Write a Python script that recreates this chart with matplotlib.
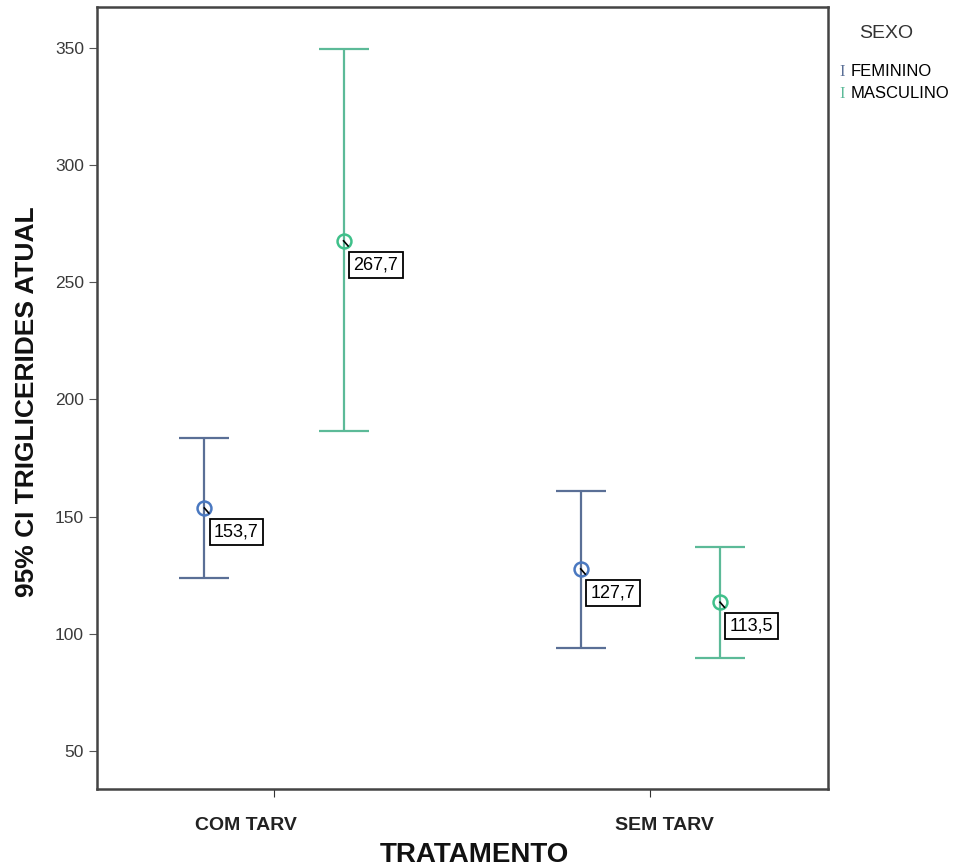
import matplotlib
matplotlib.use("Agg")
import matplotlib.pyplot as plt
import numpy as np

# -----------------------------
# Dados
# -----------------------------
tratamentos = ["COM TARV", "SEM TARV"]
sexos = ["FEMININO", "MASCULINO"]
media_fem = [153.7, 127.7]
inf_fem = [124.0, 94.0]
sup_fem = [183.5, 161.0]
media_masc = [267.7, 113.5]
inf_masc = [186.5, 89.5]
sup_masc = [349.5, 137.0]
rotulos_fem = ["153,7", "127,7"]
rotulos_masc = ["267,7", "113,5"]

COR_FEM = "#5a6f96"
COR_FEM_PT = "#4a78c0"
COR_MASC = "#5cba98"
COR_MASC_PT = "#3fc08a"

plt.rcParams["font.family"] = ["Liberation Sans", "DejaVu Sans"]

fig = plt.figure(figsize=(9.61, 8.67), dpi=100)
ax = fig.add_axes([0.101, 0.090, 0.761, 0.902])

x = np.arange(len(tratamentos))
desloc = 0.185

series = [
    (media_fem, inf_fem, sup_fem, rotulos_fem, COR_FEM, COR_FEM_PT, -desloc),
    (media_masc, inf_masc, sup_masc, rotulos_masc, COR_MASC, COR_MASC_PT, desloc),
]

for media, inf, sup, rot, cor, cor_pt, dx in series:
    xs = x + dx
    media = np.array(media)
    err = [media - np.array(inf), np.array(sup) - media]
    ax.errorbar(xs, media, yerr=err, fmt="none", ecolor=cor, elinewidth=1.6,
                capsize=18, capthick=1.6, zorder=2)
    ax.plot(xs, media, "o", ms=10, mfc="none", mec=cor_pt, mew=1.8, zorder=3)
    for xi, yi, txt in zip(xs, media, rot):
        ax.annotate(txt, (xi, yi), xytext=(7, -11), textcoords="offset points",
                    ha="left", va="top", fontsize=13,
                    bbox=dict(boxstyle="square,pad=0.25", fc="white", ec="black", lw=1.3),
                    zorder=4)
        ax.plot([xi, xi + 0.012], [yi, yi - 2.2], color="black", lw=1.2, zorder=4)

ax.set_xlim(-0.47, 1.473)
ax.set_ylim(33.8, 367.5)
ax.set_yticks([50, 100, 150, 200, 250, 300, 350])
ax.tick_params(axis="y", labelsize=12.5, length=6, color="#555555", labelcolor="#3a3a3a")
ax.set_xticks(x)
ax.set_xticklabels([])
ax.tick_params(axis="x", length=6, color="#333333")

# etiquetas das categorias (deslocadas como no original)
cat_x = [246 / 961, 664 / 961]
for cx, lab in zip(cat_x, tratamentos):
    fig.text(cx, 1 - 826 / 867, lab, ha="center", va="center", fontsize=14,
             fontweight="bold", color="#222222")

fig.text(474 / 961, 1 - 855 / 867, "TRATAMENTO", ha="center", va="center",
         fontsize=20, fontweight="bold", color="#111111")
fig.text(27 / 961, 1 - 402 / 867, "95% CI TRIGLICERIDES ATUAL", ha="center",
         va="center", rotation=90, fontsize=19, fontweight="bold", color="#111111")

for s in ax.spines.values():
    s.set_linewidth(1.8)
    s.set_color("#444444")

# legenda
fig.text(886 / 961, 1 - 33 / 867, "SEXO", ha="center", va="center", fontsize=14,
         color="#333333")
for i, (lab, cor) in enumerate(zip(sexos, [COR_FEM, COR_MASC])):
    yy = 1 - (72 + i * 22) / 867
    fig.text(842 / 961, yy, "I", ha="center", va="center", fontsize=12, color=cor,
             family=["Liberation Serif"])
    fig.text(851 / 961, yy, lab, ha="left", va="center", fontsize=12)

fig.savefig("out.png", dpi=100)
